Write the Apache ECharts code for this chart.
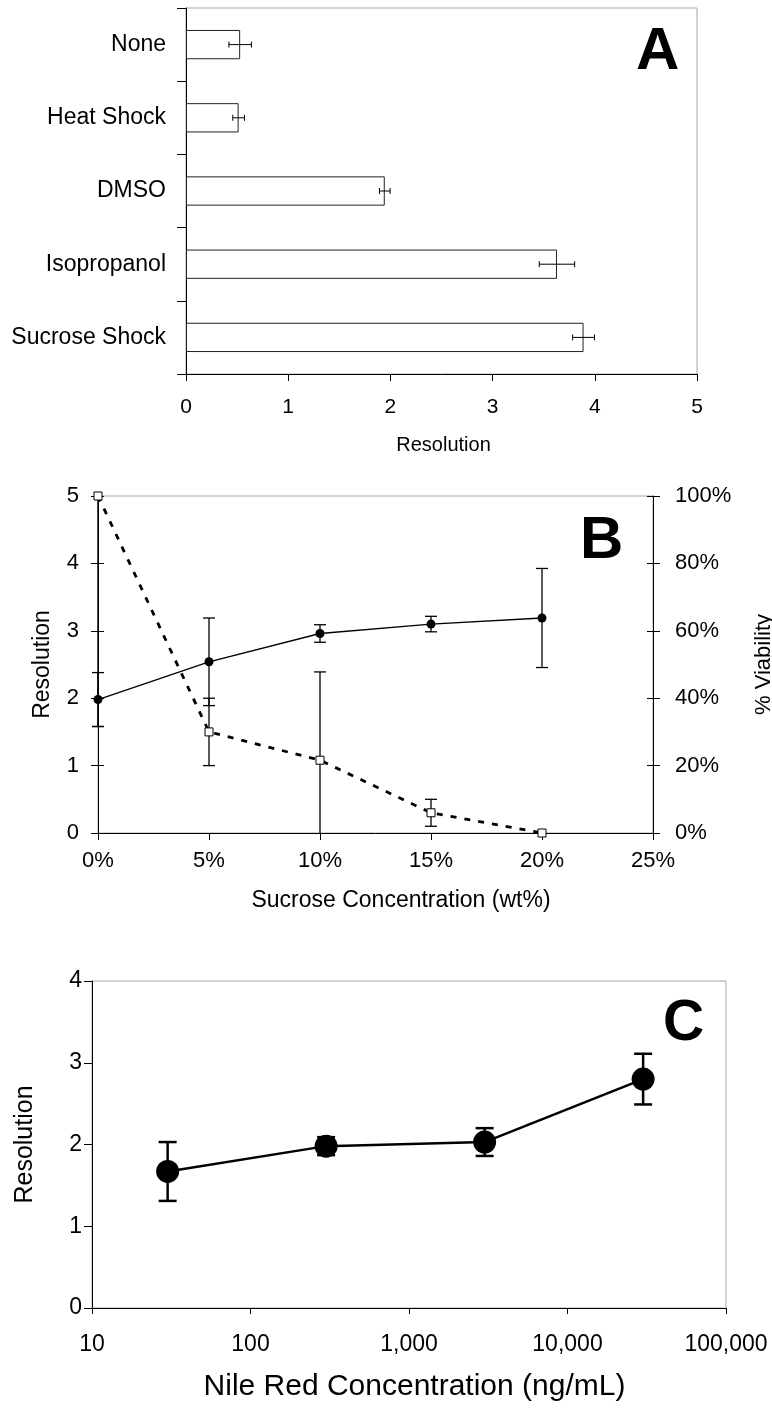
<!DOCTYPE html>
<html>
<head>
<meta charset="utf-8">
<script src="https://cdn.jsdelivr.net/npm/echarts@6/dist/echarts.min.js"></script>
<style>
  html, body { margin: 0; padding: 0; background: #fff; }
  #chart { width: 772px; height: 1424px; }
</style>
</head>
<body>
<div id="chart"></div>
<script>
// Panel A: resolution after each pretreatment
const categoriesA = ['None', 'Heat Shock', 'DMSO', 'Isopropanol', 'Sucrose Shock'];
const resolutionA = [0.53, 0.515, 1.945, 3.63, 3.89];
const resolutionErrA = [0.11, 0.057, 0.052, 0.173, 0.107];

// Panel B: sucrose concentration series
const sucroseConc = [0, 0.05, 0.10, 0.15, 0.20];
const resolutionB = [1.98, 2.54, 2.96, 3.10, 3.19];
const resolutionErrB = [0.40, 0.65, 0.13, 0.115, 0.735];
const viabilityB = [1.00, 0.30, 0.216, 0.06, 0.00];
const viabilityErrB = [0.684, 0.10, 0.262, 0.04, 0];

// Panel C: Nile Red concentration series
const nileRedConc = [30, 300, 3000, 30000];
const resolutionC = [1.67, 1.98, 2.03, 2.80];
const resolutionErrC = [0.36, 0.11, 0.17, 0.31];

const FONT = 'Liberation Sans, Arial, Helvetica, sans-serif';
const BORDER = '#a6a6a6';

const chart = echarts.init(document.getElementById('chart'), null, { renderer: 'canvas' });

// vertical error bars with horizontal caps, clipped to the value range
function verticalErrorBars(capHalf, lw, yMin, yMax) {
  return function (params, api) {
    const x = api.value(0), lo = api.value(1), hi = api.value(2);
    if (hi === lo) return null;
    const loC = Math.max(lo, yMin), hiC = Math.min(hi, yMax);
    const p1 = api.coord([x, loC]), p2 = api.coord([x, hiC]);
    const style = { stroke: '#000', lineWidth: lw };
    const children = [{ type: 'line', shape: { x1: p1[0], y1: p1[1], x2: p2[0], y2: p2[1] }, style }];
    if (lo >= yMin) children.push({ type: 'line', shape: { x1: p1[0] - capHalf, y1: p1[1], x2: p1[0] + capHalf, y2: p1[1] }, style });
    if (hi <= yMax) children.push({ type: 'line', shape: { x1: p2[0] - capHalf, y1: p2[1], x2: p2[0] + capHalf, y2: p2[1] }, style });
    return { type: 'group', children };
  };
}

// horizontal error bars for the bar chart
function horizontalErrorBars(capHalf, lw) {
  return function (params, api) {
    const cat = api.value(0), lo = api.value(1), hi = api.value(2);
    const p1 = api.coord([lo, cat]), p2 = api.coord([hi, cat]);
    const style = { stroke: '#000', lineWidth: lw };
    return {
      type: 'group',
      children: [
        { type: 'line', shape: { x1: p1[0], y1: p1[1], x2: p2[0], y2: p2[1] }, style },
        { type: 'line', shape: { x1: p1[0], y1: p1[1] - capHalf, x2: p1[0], y2: p1[1] + capHalf }, style },
        { type: 'line', shape: { x1: p2[0], y1: p2[1] - capHalf, x2: p2[0], y2: p2[1] + capHalf }, style }
      ]
    };
  };
}

const pct = v => Math.round(v * 100) + '%';
const axisLineBlack = { show: true, lineStyle: { color: '#000', width: 1 } };
const tickStyle = { color: '#000', width: 1 };

const option = {
  animation: false,
  backgroundColor: '#fff',
  textStyle: { fontFamily: FONT, color: '#000' },
  grid: [
    { left: 186, top: 8, width: 511, height: 366, show: true, borderColor: BORDER, borderWidth: 1, outerBoundsMode: 'none', containLabel: false },
    { left: 98, top: 496, width: 555, height: 337, show: true, borderColor: BORDER, borderWidth: 1, outerBoundsMode: 'none', containLabel: false },
    { left: 92, top: 981, width: 634, height: 327, show: true, borderColor: BORDER, borderWidth: 1, outerBoundsMode: 'none', containLabel: false }
  ],
  xAxis: [
    {
      gridIndex: 0, type: 'value', min: 0, max: 5, interval: 1,
      axisLine: axisLineBlack,
      axisTick: { show: true, length: 7, lineStyle: tickStyle },
      axisLabel: { fontSize: 21, color: '#000', margin: 23, fontFamily: FONT },
      splitLine: { show: false },
      name: 'Resolution', nameLocation: 'middle', nameGap: 61,
      nameTextStyle: { fontSize: 20, color: '#000', fontFamily: FONT, padding: [0, 0, 0, 4] }
    },
    {
      gridIndex: 1, type: 'value', min: 0, max: 0.25, interval: 0.05,
      axisLine: axisLineBlack,
      axisTick: { show: true, length: 7, lineStyle: tickStyle },
      axisLabel: { fontSize: 22, color: '#000', margin: 17, fontFamily: FONT, formatter: pct },
      splitLine: { show: false },
      name: 'Sucrose Concentration (wt%)', nameLocation: 'middle', nameGap: 56,
      nameTextStyle: { fontSize: 23, color: '#000', fontFamily: FONT, padding: [0, 0, 0, 51] }
    },
    {
      gridIndex: 2, type: 'log', logBase: 10, min: 10, max: 100000,
      axisLine: axisLineBlack,
      axisTick: { show: true, length: 6, lineStyle: tickStyle },
      minorTick: { show: false },
      axisLabel: { fontSize: 23, color: '#000', margin: 25, fontFamily: FONT,
        formatter: v => Number(v).toLocaleString('en-US') },
      splitLine: { show: false },
      name: 'Nile Red Concentration (ng/mL)', nameLocation: 'middle', nameGap: 64,
      nameTextStyle: { fontSize: 30, color: '#000', fontFamily: FONT, padding: [0, 0, 0, 11] }
    }
  ],
  yAxis: [
    {
      gridIndex: 0, type: 'category', data: categoriesA, inverse: true,
      axisLine: axisLineBlack,
      axisTick: { show: true, length: 9, lineStyle: tickStyle },
      axisLabel: { fontSize: 23, color: '#000', margin: 20, fontFamily: FONT },
      splitLine: { show: false }
    },
    {
      gridIndex: 1, type: 'value', position: 'left', min: 0, max: 5, interval: 1,
      axisLine: axisLineBlack,
      axisTick: { show: true, length: 7, lineStyle: tickStyle },
      axisLabel: { fontSize: 22, color: '#000', margin: 19, fontFamily: FONT },
      splitLine: { show: false },
      name: 'Resolution', nameLocation: 'middle', nameRotate: 90, nameGap: 44,
      nameTextStyle: { fontSize: 23, color: '#000', fontFamily: FONT }
    },
    {
      gridIndex: 1, type: 'value', position: 'right', min: 0, max: 1, interval: 0.2,
      axisLine: axisLineBlack,
      axisTick: { show: true, length: 7, lineStyle: tickStyle },
      axisLabel: { fontSize: 22, color: '#000', margin: 22, fontFamily: FONT, formatter: pct },
      splitLine: { show: false },
      name: '% Viability', nameLocation: 'middle', nameRotate: 90, nameGap: 100,
      nameTextStyle: { fontSize: 22, color: '#000', fontFamily: FONT }
    },
    {
      gridIndex: 2, type: 'value', min: 0, max: 4, interval: 1,
      axisLine: axisLineBlack,
      axisTick: { show: true, length: 8, lineStyle: tickStyle },
      axisLabel: { fontSize: 23, color: '#000', margin: 10, fontFamily: FONT },
      splitLine: { show: false },
      name: 'Resolution', nameLocation: 'middle', nameRotate: 90, nameGap: 54,
      nameTextStyle: { fontSize: 25, color: '#000', fontFamily: FONT }
    },
    // inner halves of the crossing ticks on panel B
    {
      gridIndex: 1, type: 'value', position: 'left', min: 0, max: 5, interval: 1,
      axisLine: { show: false },
      axisTick: { show: true, inside: true, length: 6, lineStyle: tickStyle },
      axisLabel: { show: false }, splitLine: { show: false }
    },
    {
      gridIndex: 1, type: 'value', position: 'right', min: 0, max: 1, interval: 0.2,
      axisLine: { show: false },
      axisTick: { show: true, inside: true, length: 6, lineStyle: tickStyle },
      axisLabel: { show: false }, splitLine: { show: false }
    }
  ],
  series: [
    // Panel A
    {
      type: 'bar', xAxisIndex: 0, yAxisIndex: 0,
      data: resolutionA, barWidth: '40%',
      itemStyle: { color: '#fff', borderColor: '#222', borderWidth: 1 },
      silent: true, z: 2
    },
    {
      type: 'custom', xAxisIndex: 0, yAxisIndex: 0,
      renderItem: horizontalErrorBars(3, 1),
      encode: { y: 0, x: [1, 2] },
      data: resolutionA.map((v, i) => [i, v - resolutionErrA[i], v + resolutionErrA[i]]),
      silent: true, z: 3
    },
    // Panel B: resolution (solid) and viability (dashed)
    {
      type: 'custom', xAxisIndex: 1, yAxisIndex: 1,
      renderItem: verticalErrorBars(6, 1.3, 0, 5),
      encode: { x: 0, y: [1, 2] },
      data: sucroseConc.map((x, i) => [x, resolutionB[i] - resolutionErrB[i], resolutionB[i] + resolutionErrB[i]]),
      silent: true, z: 3
    },
    {
      type: 'custom', xAxisIndex: 1, yAxisIndex: 2,
      renderItem: verticalErrorBars(6, 1.3, 0, 1),
      encode: { x: 0, y: [1, 2] },
      data: sucroseConc.map((x, i) => [x, viabilityB[i] - viabilityErrB[i], viabilityB[i] + viabilityErrB[i]]),
      silent: true, z: 3
    },
    {
      type: 'line', xAxisIndex: 1, yAxisIndex: 1,
      data: sucroseConc.map((x, i) => [x, resolutionB[i]]),
      symbol: 'circle', symbolSize: 9,
      lineStyle: { color: '#000', width: 1.3 },
      itemStyle: { color: '#000' },
      silent: true, z: 4
    },
    {
      type: 'line', xAxisIndex: 1, yAxisIndex: 2,
      data: sucroseConc.map((x, i) => [x, viabilityB[i]]),
      symbol: 'rect', symbolSize: 8,
      lineStyle: { color: '#000', width: 2.8, type: [6, 8] },
      itemStyle: { color: '#fff', borderColor: '#000', borderWidth: 1 },
      silent: true, z: 4
    },
    // Panel C
    {
      type: 'custom', xAxisIndex: 2, yAxisIndex: 3,
      renderItem: verticalErrorBars(9, 2.5, 0, 4),
      encode: { x: 0, y: [1, 2] },
      data: nileRedConc.map((x, i) => [x, resolutionC[i] - resolutionErrC[i], resolutionC[i] + resolutionErrC[i]]),
      silent: true, z: 3
    },
    {
      type: 'line', xAxisIndex: 2, yAxisIndex: 3,
      data: nileRedConc.map((x, i) => [x, resolutionC[i]]),
      symbol: 'circle', symbolSize: 23,
      lineStyle: { color: '#000', width: 2.5 },
      itemStyle: { color: '#000' },
      silent: true, z: 4
    }
  ],
  graphic: [
    { type: 'text', left: 636, top: 22, style: { text: 'A', fontSize: 60, fontWeight: 'bold', fontFamily: FONT, fill: '#000' } },
    { type: 'text', left: 580, top: 511, style: { text: 'B', fontSize: 60, fontWeight: 'bold', fontFamily: FONT, fill: '#000' } },
    { type: 'text', left: 663, top: 996, style: { text: 'C', fontSize: 57, fontWeight: 'bold', fontFamily: FONT, fill: '#000' } }
  ]
};

chart.setOption(option);
</script>
</body>
</html>
